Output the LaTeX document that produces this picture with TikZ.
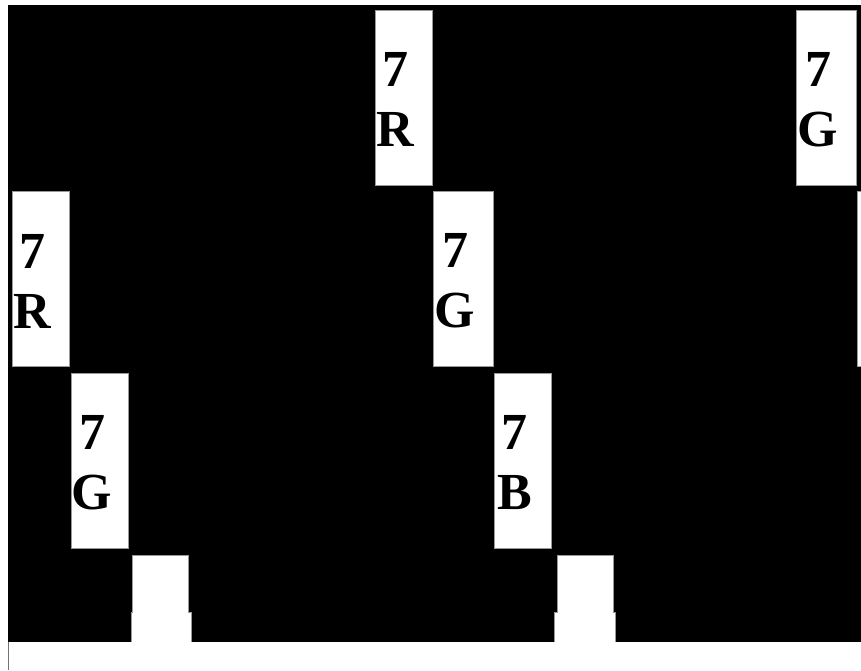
\documentclass[tikz,border=0pt]{standalone}
\usepackage{fontspec}
\setmainfont{Liberation Serif}
\usetikzlibrary{positioning}

\begin{document}
\begin{tikzpicture}[x=1pt,y=-1pt,
  slot/.style={rectangle,draw=black!40,fill=white,line width=0.6pt,
               minimum width=57pt,minimum height=175pt,inner sep=0pt,outer sep=0pt},
  tag/.style={align=center,inner sep=0pt,
              font=\fontsize{52}{60}\selectfont\bfseries},
  stub/.style={fill=white,draw=black!40,line width=0.6pt}
]
  \useasboundingbox (0,0) rectangle (861,670);
  \fill[black] (8,5) rectangle (861,642);
  \draw[black!55,line width=0.8pt] (8.4,642) -- (8.4,670);

  % first row
  \node[slot] (r1a) at (403.5,97.5) {};
  \node[tag]  (t1a) at ([xshift=-8pt,yshift=-2pt]r1a.center) {7\\R};
  \node[slot,minimum width=60pt] (r1b) at (826,97.5) {};
  \node[tag]  (t1b) at ([xshift=-8pt,yshift=-2pt]r1b.center) {7\\G};

  % second row
  \node[slot] (r2a) at (40.5,279) {};
  \node[tag]  (t2a) at ([xshift=-8pt,yshift=-2pt]r2a.center) {7\\R};
  \node[slot,minimum width=60pt] (r2b) at (463,279) {};
  \node[tag]  (t2b) at ([xshift=-8pt,yshift=-2pt]r2b.center) {7\\G};
  \node[slot] (r2c) at (885.5,279) {};

  % third row
  \node[slot] (r3a) at (100,460.5) {};
  \node[tag]  (t3a) at ([xshift=-8pt,yshift=-2pt]r3a.center) {7\\G};
  \node[slot] (r3b) at (522.5,460.5) {};
  \node[tag]  (t3b) at ([xshift=-8pt,yshift=-2pt]r3b.center) {7\\B};

  % bottom steps
  \filldraw[stub] (131,642) -- (131,612) -- (132,612) -- (132,555) -- (188,555)
    -- (188,612) -- (191,612) -- (191,642);
  \filldraw[stub] (554,642) -- (554,612) -- (557,612) -- (557,555) -- (613,555)
    -- (613,612) -- (615,612) -- (615,642);
  \fill[white] (9,642.3) rectangle (861,670);
\end{tikzpicture}
\end{document}
